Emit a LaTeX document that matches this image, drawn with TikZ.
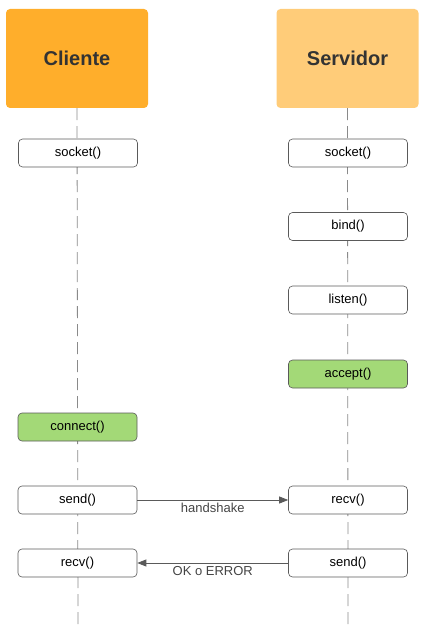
\documentclass[tikz,border=0pt]{standalone}
\usepackage{fontspec}
\setmainfont{Liberation Sans}
\usetikzlibrary{arrows.meta}
\definecolor{clientorange}{HTML}{FFAE2B}
\definecolor{serverorange}{HTML}{FFCC79}
\definecolor{callgreen}{HTML}{A3D977}
\definecolor{inkgray}{HTML}{333333}
\definecolor{labelgray}{HTML}{444444}
\definecolor{linegray}{HTML}{8A8A8A}
\definecolor{edgegray}{HTML}{5A5A5A}
\begin{document}
\begin{tikzpicture}[x=1pt,y=-1pt,
  header/.style={rounded corners=4pt, minimum width=142pt, minimum height=99pt,
    inner sep=0pt, text=inkgray, font=\fontsize{20}{24}\selectfont\bfseries},
  call/.style={draw=edgegray, line width=0.6pt, rounded corners=4pt, fill=white,
    minimum width=119pt, minimum height=28pt, inner sep=0pt,
    text=black, font=\fontsize{13}{15}\selectfont},
  active/.style={call, fill=callgreen},
  lifeline/.style={linegray, line width=0.8pt, dash pattern=on 12pt off 6pt},
  msg/.style={edgegray, line width=0.8pt, -{Triangle[length=9pt,width=7pt]}},
  msglabel/.style={text=labelgray, font=\fontsize{13}{15}\selectfont, inner sep=1pt}]
\useasboundingbox (0,0) rectangle (426,636);

% participants
\node[header, fill=clientorange] (cli) at (77,58.5) {Cliente};
\node[header, fill=serverorange] (srv) at (347.5,58.5) {Servidor};
\coordinate (cliend) at (78,630);
\coordinate (srvend) at (348,630);

% lifelines
\draw[lifeline] (cli.south) -- (cliend);
\draw[lifeline] (srv.south) -- (srvend);

% client calls
\node[call] (csocket) at (78,153) {socket()};
\node[active] (cconnect) at (77.5,427) {connect()};
\node[call] (csend) at (77.5,500) {send()};
\node[call] (crecv) at (77.5,563) {recv()};

% server calls
\node[call] (ssocket) at (348,153) {socket()};
\node[call] (sbind) at (348,226.5) {bind()};
\node[call] (slisten) at (348,300) {listen()};
\node[active] (saccept) at (348,374) {accept()};
\node[call] (srecv) at (348,500) {recv()};
\node[call] (ssend) at (348,563) {send()};

% messages
\draw[msg] (csend.east) -- node[msglabel, below=2pt] (hs) {handshake} (srecv.west);
\draw[msg] (ssend.west) -- node[msglabel, below=2pt] (ok) {OK o ERROR} (crecv.east);
\end{tikzpicture}
\end{document}
